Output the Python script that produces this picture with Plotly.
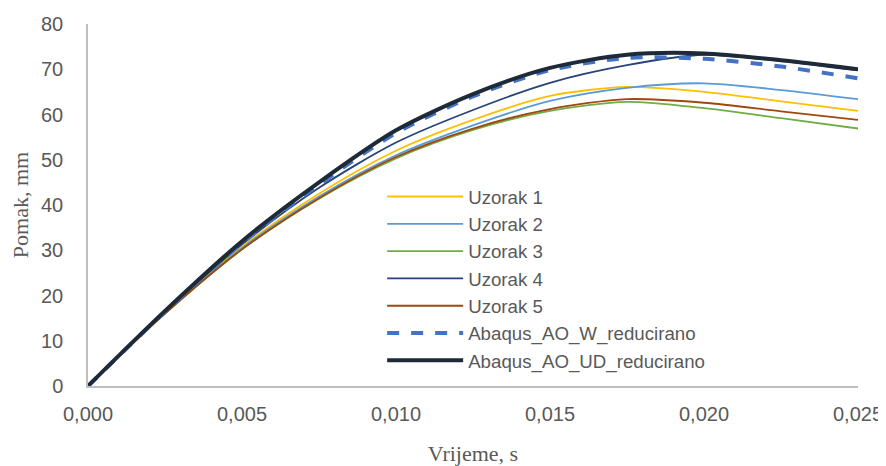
import plotly.graph_objects as go

t = [0.0, 0.0025, 0.005, 0.0075, 0.010, 0.0125, 0.015, 0.0175, 0.020, 0.0225, 0.025]

uzorak1 = [0, 16.2, 30.8, 42.5, 52.0, 58.8, 64.1, 66.1, 65.0, 62.9, 60.8]
uzorak2 = [0, 16.1, 30.5, 41.9, 51.0, 57.6, 63.0, 65.9, 66.9, 65.4, 63.4]
uzorak3 = [0, 16.0, 30.2, 41.4, 50.3, 56.6, 60.8, 62.8, 61.4, 59.2, 56.9]
uzorak4 = [0, 16.4, 31.3, 43.8, 53.8, 61.0, 67.0, 70.9, 73.2, 71.8, 69.8]
uzorak5 = [0, 16.0, 30.2, 41.5, 50.6, 56.9, 61.2, 63.4, 62.6, 60.7, 58.8]
abaqus_w = [0, 16.4, 31.6, 44.5, 55.9, 64.0, 69.8, 72.5, 72.3, 70.6, 68.0]
abaqus_ud = [0, 16.6, 32.0, 45.0, 56.5, 64.5, 70.3, 73.2, 73.5, 72.0, 70.0]

series = [
    ("Uzorak 1", uzorak1, "#FFC000", 1.8, "solid"),
    ("Uzorak 2", uzorak2, "#5B9BD5", 1.8, "solid"),
    ("Uzorak 3", uzorak3, "#70AD47", 1.8, "solid"),
    ("Uzorak 4", uzorak4, "#264478", 1.8, "solid"),
    ("Uzorak 5", uzorak5, "#9E480E", 1.8, "solid"),
    ("Abaqus_AO_W_reducirano", abaqus_w, "#4472C4", 4, "dash"),
    ("Abaqus_AO_UD_reducirano", abaqus_ud, "#1E2A38", 4, "solid"),
]

fig = go.Figure()
for name, y, color, w, dash in series:
    fig.add_trace(go.Scatter(x=t, y=y, name=name, mode="lines",
                             line=dict(color=color, width=w, dash=dash, shape="spline", smoothing=0.8)))

tick_font = dict(family="Liberation Sans, Arial", size=20, color="#595959")
title_font = dict(family="Liberation Serif, Times New Roman, serif", size=22, color="#595959")

# the page body adds an 8px offset; figure is sized to fill the remaining window
fig.update_layout(
    width=878, height=458,
    margin=dict(l=80, r=28, t=16, b=80),
    paper_bgcolor="white", plot_bgcolor="white",
    separators=", ",
    showlegend=True,
    legend=dict(x=0.382, y=0.575, xanchor="left", yanchor="top",
                font=dict(family="Liberation Sans, Arial", size=18.7, color="#595959"),
                bgcolor="rgba(0,0,0,0)", itemwidth=76, tracegroupgap=0),
    xaxis=dict(range=[0, 0.025], tickvals=[0, 0.005, 0.01, 0.015, 0.02, 0.025], tickformat=".3f",
               showgrid=False, zeroline=False, showline=True, linecolor="#BFBFBF", linewidth=1.5,
               ticks="", tickfont=tick_font, ticklabelstandoff=9, automargin=False,
               title=dict(text="Vrijeme, s", font=title_font, standoff=24)),
    yaxis=dict(range=[0, 80], tickvals=[0, 10, 20, 30, 40, 50, 60, 70, 80],
               showgrid=False, zeroline=False, showline=True, linecolor="#BFBFBF", linewidth=1.5,
               ticks="", tickfont=tick_font, ticklabelstandoff=19, automargin=False,
               title=dict(text="Pomak, mm", font=title_font, standoff=6)),
)

fig.write_html("out.html")
